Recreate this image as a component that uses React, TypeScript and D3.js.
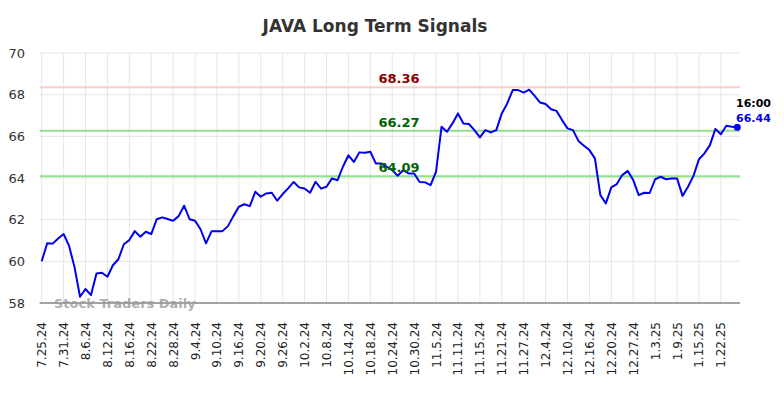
import React, { useEffect, useRef } from "react";
import * as d3 from "d3";

const tickLabels = [
  "7.25.24", "7.31.24", "8.6.24", "8.12.24", "8.16.24", "8.22.24", "8.28.24", "9.4.24",
  "9.10.24", "9.16.24", "9.20.24", "9.26.24", "10.2.24", "10.8.24", "10.14.24", "10.18.24",
  "10.24.24", "10.30.24", "11.5.24", "11.11.24", "11.15.24", "11.21.24", "11.27.24", "12.4.24",
  "12.10.24", "12.16.24", "12.20.24", "12.27.24", "1.3.25", "1.9.25", "1.15.25", "1.22.25",
];

// closing prices, one per trading day
const prices = [
  60.0, 60.87, 60.85, 61.1, 61.31, 60.74, 59.71, 58.3, 58.67, 58.38,
  59.42, 59.45, 59.26, 59.81, 60.1, 60.82, 61.02, 61.45, 61.18, 61.42,
  61.31, 62.02, 62.11, 62.03, 61.95, 62.17, 62.67, 62.02, 61.95, 61.54,
  60.86, 61.44, 61.45, 61.45, 61.69, 62.17, 62.62, 62.74, 62.65, 63.34,
  63.1, 63.26, 63.29, 62.91, 63.23, 63.5, 63.81, 63.55, 63.5, 63.29,
  63.82, 63.49, 63.58, 63.98, 63.89, 64.54, 65.09, 64.77, 65.23, 65.21,
  65.26, 64.7, 64.7, 64.54, 64.38, 64.11, 64.38, 64.22, 64.22, 63.81,
  63.79, 63.66, 64.3, 66.46, 66.22, 66.62, 67.1, 66.62, 66.59, 66.3,
  65.95, 66.3, 66.19, 66.3, 67.1, 67.58, 68.22, 68.22, 68.1, 68.24,
  67.94, 67.62, 67.55, 67.3, 67.22, 66.78, 66.38, 66.3, 65.78, 65.55,
  65.34, 64.94, 63.18, 62.78, 63.55, 63.71, 64.14, 64.34, 63.9, 63.18,
  63.29, 63.28, 63.94, 64.06, 63.94, 63.98, 63.98, 63.14, 63.58, 64.1,
  64.9, 65.18, 65.58, 66.35, 66.1, 66.51, 66.46, 66.44,
];

const yTicks = [58, 60, 62, 64, 66, 68, 70];

const signalLevels = [68.36, 66.27, 64.09];
const signalLine = ["#ffcccc", "#90e090", "#90e090"];
const signalText = ["#8b0000", "#006400", "#006400"];

const lastTime = "16:00";

export default function App() {
  const ref = useRef<SVGSVGElement>(null);

  useEffect(() => {
    const svg = d3.select(ref.current);
    svg.selectAll("*").remove();

    const left = 41.7, right = 740, top = 53, bottom = 303;
    const font = "DejaVu Sans, sans-serif";

    const x = d3.scaleLinear().domain([0, prices.length - 1]).range([left, 737.3]);
    const y = d3.scaleLinear().domain([58, 70]).range([bottom, top]);

    // title
    svg.append("text")
      .attr("x", 375).attr("y", 32)
      .attr("text-anchor", "middle")
      .attr("font-family", font).attr("font-size", 17).attr("font-weight", "bold")
      .attr("fill", "#333")
      .text("JAVA Long Term Signals");

    // horizontal grid + y labels
    const g = svg.append("g");
    yTicks.forEach(t => {
      g.append("line")
        .attr("x1", left - 2).attr("x2", right)
        .attr("y1", y(t)).attr("y2", y(t))
        .attr("stroke", "#e6e6e6").attr("stroke-width", 1);
      g.append("text")
        .attr("x", 25).attr("y", y(t) + 4.5)
        .attr("text-anchor", "end")
        .attr("font-family", font).attr("font-size", 13)
        .attr("fill", "#333")
        .text(t);
    });

    // vertical grid + x labels
    tickLabels.forEach((lab, k) => {
      const xx = x(k * 4);
      g.append("line")
        .attr("x1", xx).attr("x2", xx)
        .attr("y1", top).attr("y2", bottom)
        .attr("stroke", "#e6e6e6").attr("stroke-width", 1);
      g.append("text")
        .attr("transform", `translate(${xx + 4.5},${322}) rotate(-90)`)
        .attr("text-anchor", "end")
        .attr("font-family", font).attr("font-size", 12)
        .attr("fill", "#222")
        .text(lab);
    });

    // bottom axis line
    g.append("line")
      .attr("x1", left - 2).attr("x2", right)
      .attr("y1", bottom).attr("y2", bottom)
      .attr("stroke", "#555").attr("stroke-width", 1);

    // watermark
    svg.append("text")
      .attr("x", 54).attr("y", 308)
      .attr("font-family", font).attr("font-size", 13).attr("font-weight", "bold")
      .attr("fill", "#999").attr("fill-opacity", 0.8)
      .text("Stock Traders Daily");

    // signal lines
    signalLevels.forEach((lv, i) => {
      svg.append("line")
        .attr("x1", left - 2).attr("x2", right)
        .attr("y1", y(lv)).attr("y2", y(lv))
        .attr("stroke", signalLine[i]).attr("stroke-width", 2);
    });

    // price line
    svg.append("path")
      .datum(prices)
      .attr("fill", "none")
      .attr("stroke", "#0000ee")
      .attr("stroke-width", 2)
      .attr("stroke-linejoin", "round")
      .attr("d", d3.line<number>().x((d, i) => x(i)).y(d => y(d)));

    // signal labels (drawn above the line)
    signalLevels.forEach((lv, i) => {
      svg.append("text")
        .attr("x", 399).attr("y", y(lv) - 4)
        .attr("text-anchor", "middle")
        .attr("font-family", font).attr("font-size", 13).attr("font-weight", "bold")
        .attr("fill", signalText[i])
        .text(lv.toFixed(2));
    });

    // last point
    const li = prices.length - 1;
    svg.append("circle")
      .attr("cx", x(li)).attr("cy", y(prices[li])).attr("r", 3.5)
      .attr("fill", "#0000ee");
    svg.append("text")
      .attr("x", 736).attr("y", 107)
      .attr("font-family", font).attr("font-size", 11).attr("font-weight", "bold")
      .attr("fill", "#000")
      .text(lastTime);
    svg.append("text")
      .attr("x", 736).attr("y", 122)
      .attr("font-family", font).attr("font-size", 11).attr("font-weight", "bold")
      .attr("fill", "#0000ee")
      .text(prices[li].toFixed(2));
  }, []);

  return (
    <svg ref={ref} width={784} height={398}
      style={{ position: "absolute", left: 0, top: 0, background: "#fff" }} />
  );
}
